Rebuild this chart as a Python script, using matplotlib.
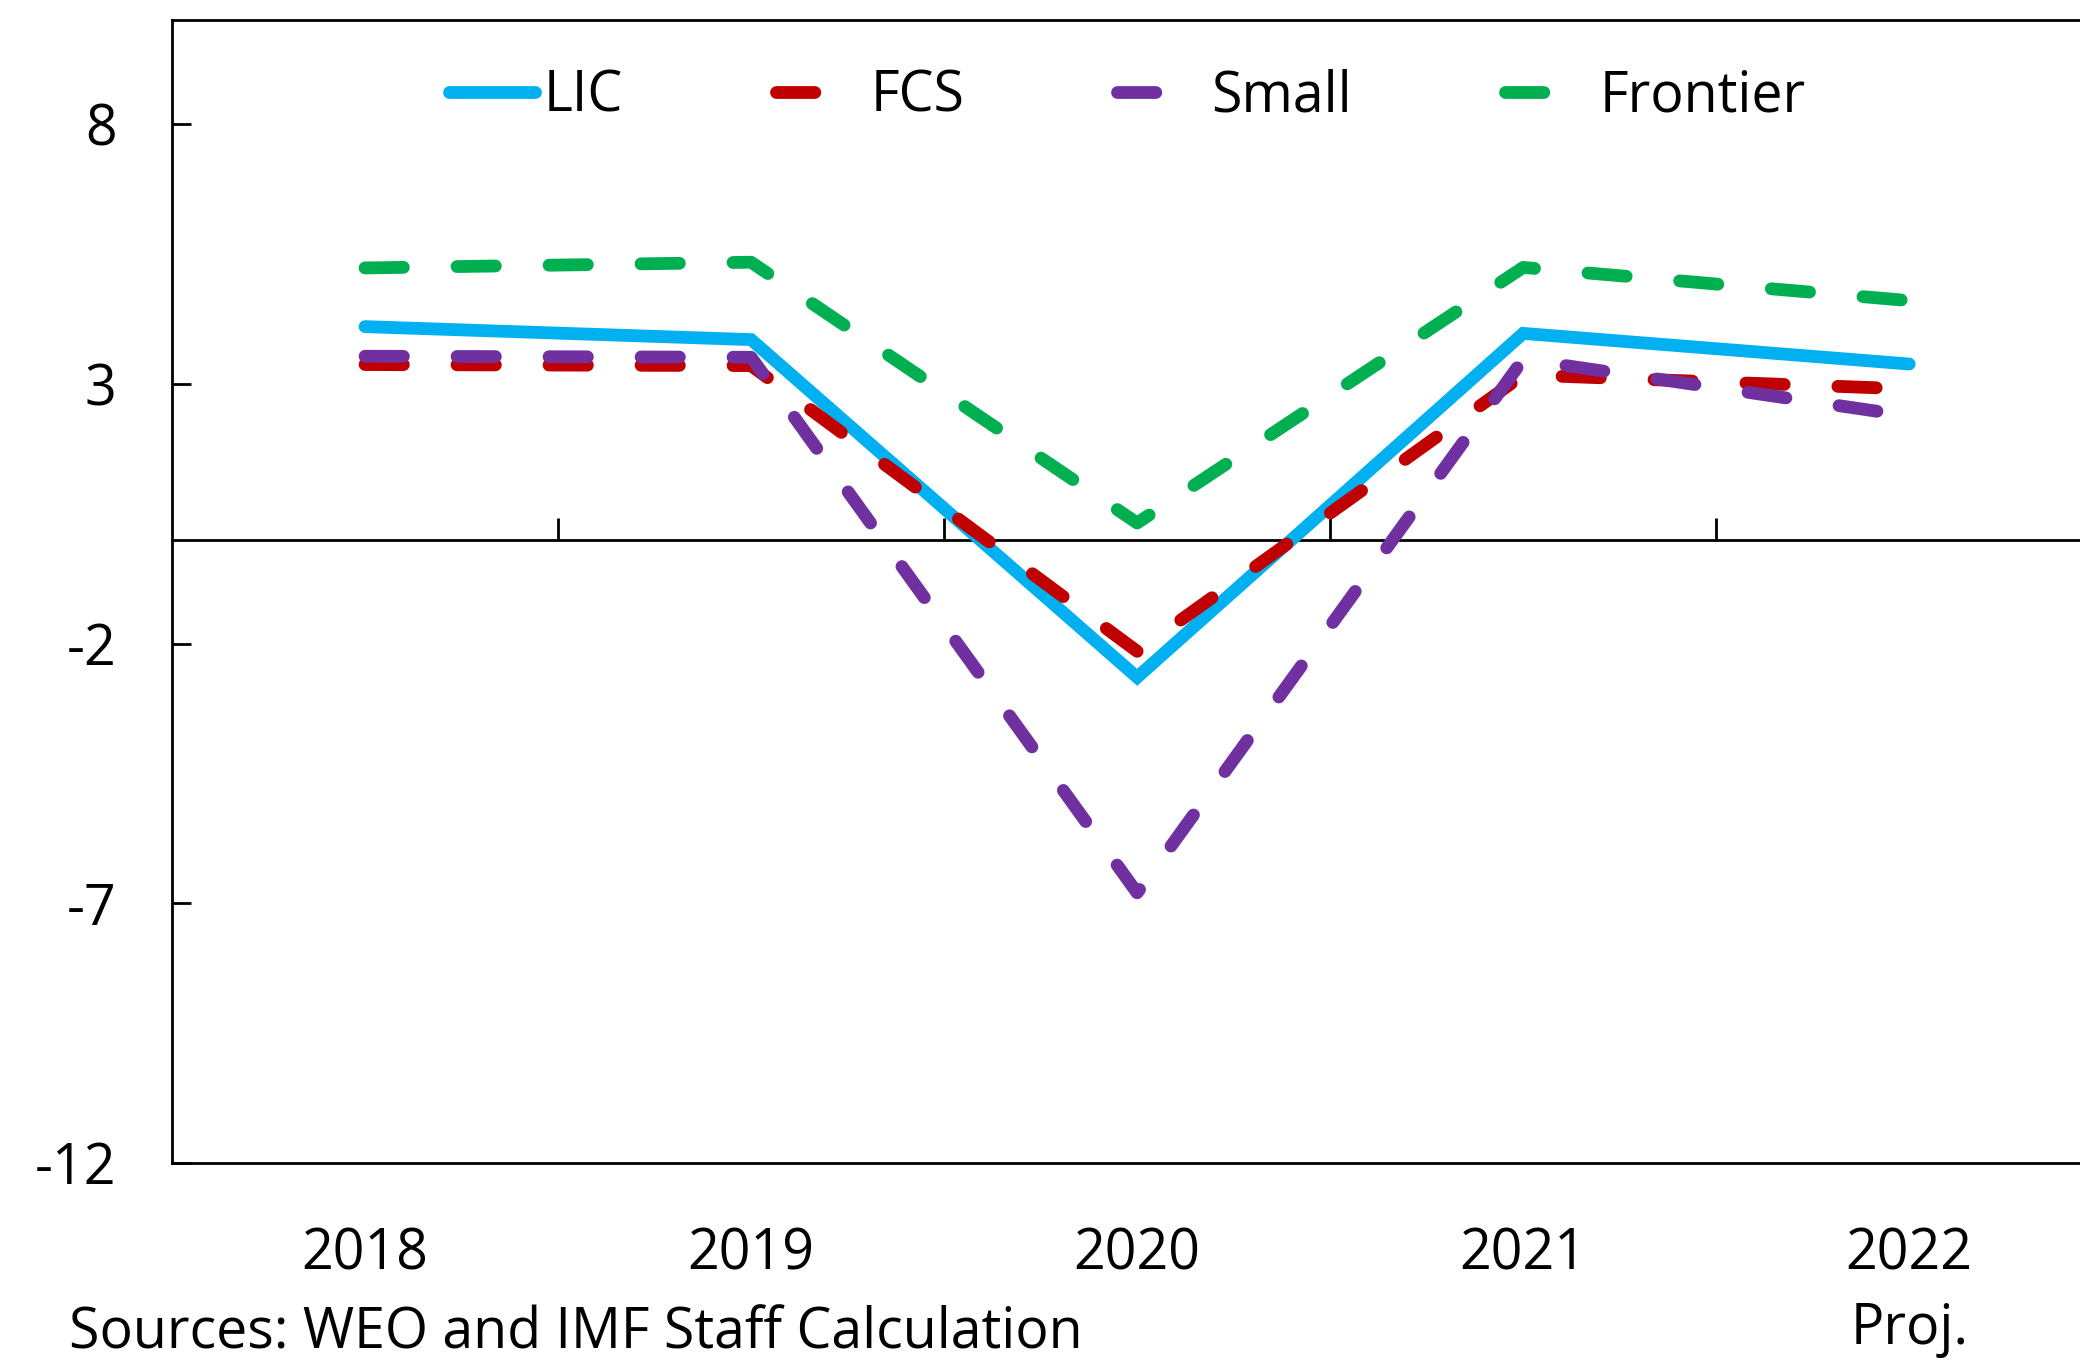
import matplotlib.pyplot as plt

# growth by country group, 2018-2022
years = ['2018', '2019', '2020', '2021', '2022\nProj.']
lic = [4.1, 3.85, -2.65, 3.97, 3.38]
fcs = [3.37, 3.35, -2.15, 3.17, 2.9]
small = [3.53, 3.51, -6.8, 3.47, 2.38]
frontier = [5.23, 5.34, 0.32, 5.24, 4.6]
yticks = [-12, -7, -2, 3, 8]

plt.rcParams['font.family'] = ['Open Sans', 'DejaVu Sans']
plt.rcParams['axes.unicode_minus'] = False
FS = 20

fig = plt.figure(figsize=(10.4, 6.805), dpi=200)
ax = fig.add_axes([0.0827, 0.1455, 0.928, 0.8397])

x = list(range(len(years)))
lw = 4.6
dash = (0, (3, 4.2))
ax.plot(x, lic, color='#00B0F0', lw=lw, solid_capstyle='round',
        solid_joinstyle='miter', label='LIC')
ax.plot(x, fcs, color='#C00000', lw=lw, ls=dash, dash_capstyle='round', label='FCS')
ax.plot(x, small, color='#7030A0', lw=lw, ls=dash, dash_capstyle='round', label='Small')
ax.plot(x, frontier, color='#00B050', lw=lw, ls=dash, dash_capstyle='round', label='Frontier')

ax.set_xlim(-0.5, 4.5)
ax.set_ylim(-12, 10)
ax.set_yticks(yticks)
ax.set_xticks(x, years)
for lab in ax.get_xticklabels():
    lab.set_linespacing(1.4)
ax.tick_params(axis='y', direction='in', length=7, width=1, pad=20, labelsize=FS)
ax.tick_params(axis='x', length=0, pad=23, labelsize=FS)
for s in ['left', 'top', 'bottom']:
    ax.spines[s].set_linewidth(1)
ax.spines['right'].set_visible(False)

# zero line with ticks between categories
sec = ax.secondary_xaxis(0, transform=ax.transData)
sec.set_xticks([0.5, 1.5, 2.5, 3.5])
sec.tick_params(direction='in', length=8, width=1, labelbottom=False)
sec.spines['bottom'].set_linewidth(1)

ax.legend(ncol=4, frameon=False, fontsize=FS, handlelength=1.55, handletextpad=0.15,
          columnspacing=2.75, loc='center', bbox_to_anchor=(0.542, 1 - 97 / 1361),
          bbox_transform=fig.transFigure)

fig.text(69 / 2080, 1 - 1334 / 1361, 'Sources: WEO and IMF Staff Calculation',
         fontsize=FS, va='center', ha='left')

fig.savefig('out.png', dpi=200)
